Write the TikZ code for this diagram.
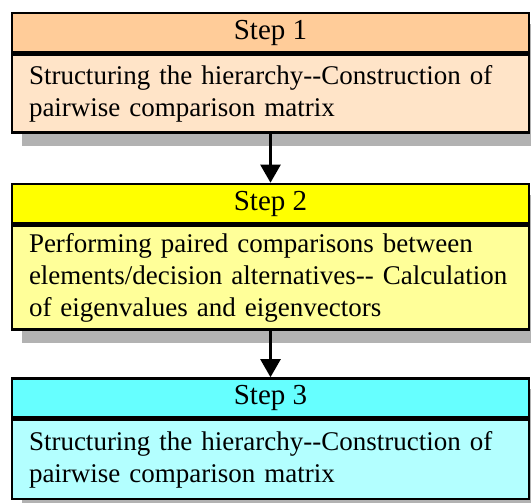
\documentclass[tikz,border=0pt]{standalone}
\usepackage{fontspec}
\setmainfont{Liberation Serif}
\usetikzlibrary{arrows.meta,backgrounds}

\definecolor{headA}{RGB}{255,204,153}
\definecolor{bodyA}{RGB}{255,228,200}
\definecolor{headB}{RGB}{255,255,0}
\definecolor{bodyB}{RGB}{255,255,153}
\definecolor{headC}{RGB}{102,255,255}
\definecolor{bodyC}{RGB}{179,255,255}
\definecolor{shadowgray}{RGB}{178,178,178}

\tikzset{
  stephead/.style={draw=black, line width=2.6pt, rectangle,
    minimum width=517pt, minimum height=39pt, inner sep=0pt,
    font=\fontsize{29}{32}\selectfont},
  stepbody/.style={draw=black, line width=2.6pt, rectangle, anchor=north,
    text width=483pt, inner xsep=17pt, inner ysep=0pt, align=left,
    font=\fontsize{27}{32}\selectfont},
  flowarrow/.style={line width=2.4pt, -{Triangle[length=18pt,width=20pt]}},
}

\newcommand{\stepshadow}[2]{%
  \fill[shadowgray] ([xshift=11pt,yshift=-12pt]#1.north west)
    rectangle ([xshift=11pt,yshift=-12pt]#2.south east);}

\begin{document}
\begin{tikzpicture}[x=1pt,y=-1pt]
  \useasboundingbox (0,0) rectangle (531,503);

  % Step 1
  \node[stephead, fill=headA] (h1) at (270.5,32.5) {Step 1};
  \node[stepbody, fill=bodyA, minimum height=78pt] (b1) at (h1.south)
    {Structuring the hierarchy-{}-Construction of\\pairwise comparison matrix};

  % Step 2
  \node[stephead, fill=headB] (h2) at (270.5,203.5) {Step 2};
  \node[stepbody, fill=bodyB, minimum height=104pt] (b2) at (h2.south)
    {Performing paired comparisons between\\elements/decision alternatives-{}- Calculation\\of eigenvalues and eigenvectors};

  % Step 3
  \node[stephead, fill=headC] (h3) at (270.5,398) {Step 3};
  \node[stepbody, fill=bodyC, minimum height=79pt] (b3) at (h3.south)
    {Structuring the hierarchy-{}-Construction of\\pairwise comparison matrix};

  % drop shadows behind each step
  \begin{scope}[on background layer]
    \stepshadow{h1}{b1}
    \stepshadow{h2}{b2}
    \stepshadow{h3}{b3}
  \end{scope}

  % connectors
  \draw[flowarrow] (b1.south) -- (h2.north);
  \draw[flowarrow] (b2.south) -- (h3.north);
\end{tikzpicture}
\end{document}
